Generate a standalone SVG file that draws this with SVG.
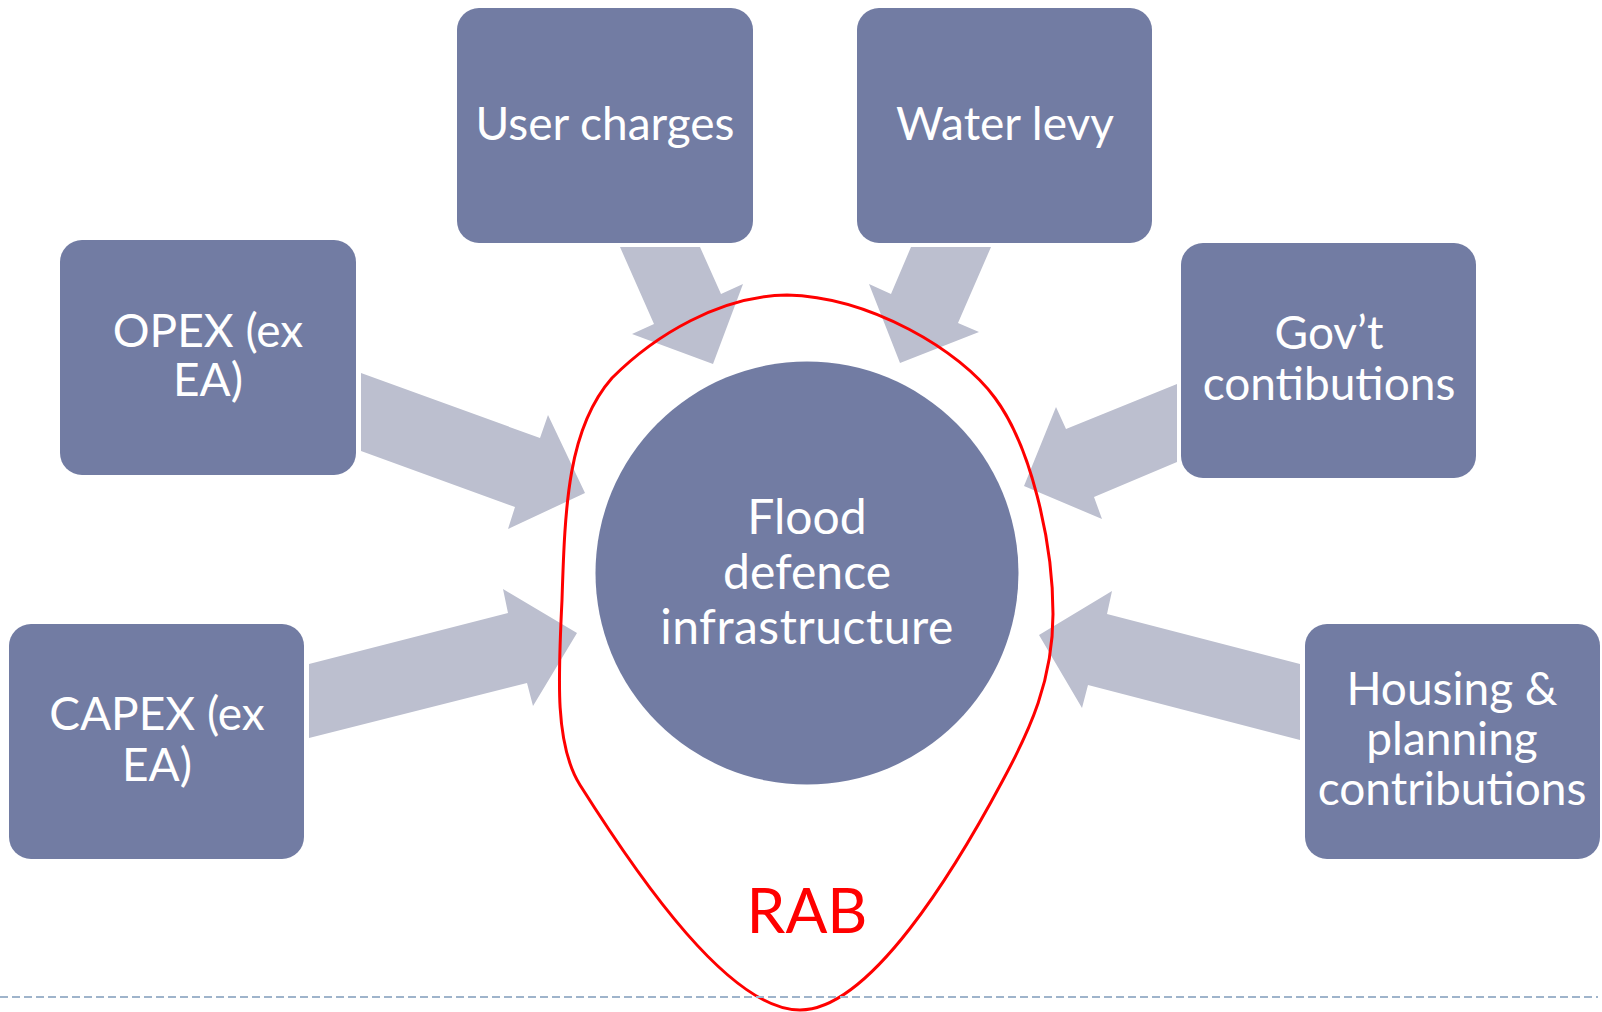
<svg xmlns="http://www.w3.org/2000/svg" width="1602" height="1012" viewBox="0 0 1602 1012">
  <style>
    .box { fill: #727ca3; }
    .hub { fill: #727ca3; }
    .arrow { fill: #bcbfcf; }
    .label { fill: #ffffff; font-family: Lato, "Open Sans", "Liberation Sans", sans-serif; font-size: 46px; text-anchor: middle; }
    .hub-label { font-size: 48px; }
    .rab { fill: none; stroke: #ff0000; stroke-width: 3; }
    .rab-text { fill: #ff0000; font-family: Lato, "Open Sans", "Liberation Sans", sans-serif; font-size: 62px; text-anchor: middle; }
    .rule { stroke: #9fb4cb; stroke-width: 2; stroke-dasharray: 8 4; }
  </style>

  <!-- block arrows feeding the central node -->
  <g id="connectors">
    <polygon class="arrow" points="620,247 700,247 721,294 743,284 713,364 632,334 654,324"/>
    <polygon class="arrow" points="991,247 911,247 891,294 869,284 900,363 979,332 958,323"/>
    <polygon class="arrow" points="361,373 540,438 548,415 585,493 508,529 515,507 361,451"/>
    <polygon class="arrow" points="309,664 508,613 503,589 577,633 533,706 527,683 309,738"/>
    <polygon class="arrow" points="1177,384 1066,429 1056,407 1024,486 1102,519 1094,497 1177,462"/>
    <polygon class="arrow" points="1300,664 1107,614 1112,591 1039,635 1082,708 1088,685 1300,740"/>
  </g>

  <g id="node-user-charges">
    <rect class="box" x="457" y="8" width="296" height="235" rx="22"/>
    <text class="label" x="605" y="140">User charges</text>
  </g>

  <g id="node-water-levy">
    <rect class="box" x="857" y="8" width="295" height="235" rx="22"/>
    <text class="label" x="1005" y="140">Water levy</text>
  </g>

  <g id="node-opex">
    <rect class="box" x="60" y="240" width="296" height="235" rx="22"/>
    <text class="label" x="208" y="347">OPEX (ex</text>
    <text class="label" x="208" y="396">EA)</text>
  </g>

  <g id="node-govt">
    <rect class="box" x="1181" y="243" width="295" height="235" rx="22"/>
    <text class="label" x="1329" y="349">Gov’t</text>
    <text class="label" x="1329" y="400">contibutions</text>
  </g>

  <g id="node-capex">
    <rect class="box" x="9" y="624" width="295" height="235" rx="22"/>
    <text class="label" x="157" y="730">CAPEX (ex</text>
    <text class="label" x="157" y="781">EA)</text>
  </g>

  <g id="node-housing">
    <rect class="box" x="1305" y="624" width="295" height="235" rx="22"/>
    <text class="label" x="1452" y="705">Housing &amp;</text>
    <text class="label" x="1452" y="755">planning</text>
    <text class="label" x="1452" y="805">contributions</text>
  </g>

  <g id="node-flood-defence">
    <circle class="hub" cx="807" cy="573" r="211.5"/>
    <text class="label hub-label" x="807" y="534">Flood</text>
    <text class="label hub-label" x="807" y="589">defence</text>
    <text class="label hub-label" x="807" y="644" letter-spacing="0.5">infrastructure</text>
  </g>

  <!-- hand-drawn boundary of the regulated asset base -->
  <g id="rab">
    <path class="rab" d="M 787 295 C 870 297 960 350 995 398 C 1030 445 1053 540 1053 614 C 1053 680 1030 730 1003 780 C 955 870 870 1010 800 1010 C 730 1010 640 880 580 785 C 555 745 558 680 562 600 C 565 505 568 428 612 378 C 655 335 720 296 787 295 Z"/>
    <text class="rab-text" x="807" y="933">RAB</text>
  </g>

  <line class="rule" x1="0" y1="997" x2="1598" y2="997"/>
</svg>
